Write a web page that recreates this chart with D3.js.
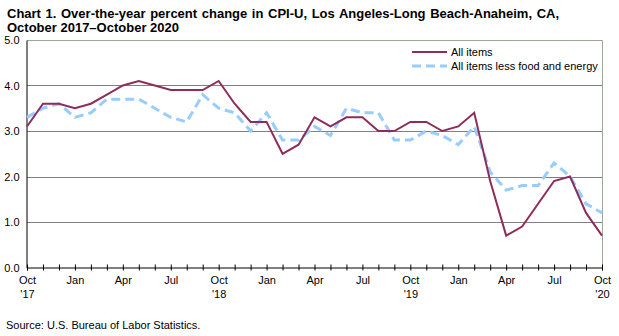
<!DOCTYPE html>
<html>
<head>
<meta charset="utf-8">
<script src="https://cdn.jsdelivr.net/npm/d3@7"></script>
<style>
  body { margin: 0; background: #fff; }
  svg text { font-family: Arial, "Liberation Sans", sans-serif; }
</style>
</head>
<body>
<svg id="chart" width="619" height="336"></svg>
<script>
// monthly observations, Oct 2017 .. Oct 2020
const months = ["Oct","Nov","Dec","Jan","Feb","Mar","Apr","May","Jun","Jul","Aug","Sep",
  "Oct","Nov","Dec","Jan","Feb","Mar","Apr","May","Jun","Jul","Aug","Sep",
  "Oct","Nov","Dec","Jan","Feb","Mar","Apr","May","Jun","Jul","Aug","Sep","Oct"];

const allItems = [3.1,3.6,3.6,3.5,3.6,3.8,4.0,4.1,4.0,3.9,3.9,3.9,
  4.1,3.6,3.2,3.2,2.5,2.7,3.3,3.1,3.3,3.3,3.0,3.0,
  3.2,3.2,3.0,3.1,3.4,1.9,0.7,0.9,1.4,1.9,2.0,1.2,0.7];

const coreItems = [3.3,3.5,3.6,3.3,3.4,3.7,3.7,3.7,3.5,3.3,3.2,3.8,
  3.5,3.4,3.0,3.4,2.8,2.8,3.1,2.9,3.5,3.4,3.4,2.8,
  2.8,3.0,2.9,2.7,3.1,2.1,1.7,1.8,1.8,2.3,2.0,1.4,1.2];

const yTicks = [0,1,2,3,4,5];
const labelMonths = ["Oct","Jan","Apr","Jul"];
const yearLabels = {0:"'17", 12:"'18", 24:"'19", 36:"'20"};

const seriesNames = ["All items","All items less food and energy"];
const red = "#8e2d5a";
const blue = "#99ccff";

let svg = d3.select("#chart");
const margin = { left: 27, top: 40, right: 17, bottom: 69 };
const width = 619, height = 336;

let x = d3.scaleLinear().domain([0, months.length - 1]).range([margin.left, width - margin.right]);
let y = d3.scaleLinear().domain([0, 5]).range([height - margin.bottom + 0.5, margin.top]);

// title
svg.append("text").attr("x", 7).attr("y", 18)
  .style("font-size", "13px").style("font-weight", "bold").style("word-spacing", "1px")
  .text("Chart 1. Over-the-year percent change in CPI-U, Los Angeles-Long Beach-Anaheim, CA,");
svg.append("text").attr("x", 7).attr("y", 32)
  .style("font-size", "13px").style("font-weight", "bold")
  .text("October 2017\u2013October 2020");

// gridlines
svg.append("g").selectAll("line")
  .data(yTicks.filter(d => d > 0 && d < 5))
  .enter().append("line")
  .attr("x1", x(0)).attr("x2", x(36))
  .attr("y1", d => Math.round(y(d)) + 0.5).attr("y2", d => Math.round(y(d)) + 0.5)
  .attr("stroke", "#808080").attr("stroke-width", 1);

// frame top and right
svg.append("path")
  .attr("d", `M${x(0)},${Math.round(y(5)) + 0.5}H${Math.round(x(36)) + 0.5}V${y(0)}`)
  .attr("fill", "none").attr("stroke", "#9aa894").attr("stroke-width", 1);

// y axis
let yAxis = svg.append("g")
  .attr("transform", `translate(${Math.round(x(0)) - 0.5},0)`)
  .call(d3.axisLeft(y).tickValues(yTicks).tickSize(0).tickPadding(7).tickFormat(d3.format(".1f")));
yAxis.select(".domain").attr("stroke", "#000");
yAxis.selectAll("text").style("font-size", "11px").attr("font-family", null).attr("fill", "#000");

// x axis
let xAxis = svg.append("g")
  .attr("transform", `translate(0,${Math.round(y(0)) - 0.5})`)
  .call(d3.axisBottom(x).ticks(months.length).tickValues(d3.range(months.length))
    .tickSize(3).tickPadding(5).tickFormat(""));
xAxis.select(".domain").attr("stroke", "#000");
xAxis.selectAll(".tick line").attr("y1", -3).attr("y2", 3).attr("stroke", "#000");
xAxis.selectAll(".tick").each(function(d) {
  const m = months[d];
  if (!labelMonths.includes(m) || d % 3 !== 0) return;
  const t = d3.select(this).append("text")
    .attr("fill", "#000").attr("text-anchor", "middle")
    .style("font-size", "11px");
  t.append("tspan").attr("x", 0).attr("y", 16).text(m);
  if (yearLabels[d] !== undefined) {
    t.append("tspan").attr("x", 0).attr("y", 30).text(yearLabels[d]);
  }
});

// lines
const line = d3.line().x((d, i) => x(i)).y(d => y(d));

svg.append("path").datum(coreItems)
  .attr("d", line).attr("fill", "none")
  .attr("stroke", blue).attr("stroke-width", 3)
  .attr("stroke-dasharray", "9,5");

svg.append("path").datum(allItems)
  .attr("d", line).attr("fill", "none")
  .attr("stroke", red).attr("stroke-width", 2);

// legend
const legend = svg.append("g");
seriesNames.forEach((name, i) => {
  const ly = 52 + i * 14;
  legend.append("line")
    .attr("x1", 412).attr("x2", 447).attr("y1", ly).attr("y2", ly)
    .attr("stroke", i === 0 ? red : blue)
    .attr("stroke-width", i === 0 ? 2 : 3)
    .attr("stroke-dasharray", i === 0 ? null : "9,5");
  legend.append("text").attr("x", 451).attr("y", ly + 4)
    .style("font-size", "11px").text(name);
});

// source
svg.append("text").attr("x", 6).attr("y", 329)
  .style("font-size", "11px").text("Source: U.S. Bureau of Labor Statistics.");
</script>
</body>
</html>
